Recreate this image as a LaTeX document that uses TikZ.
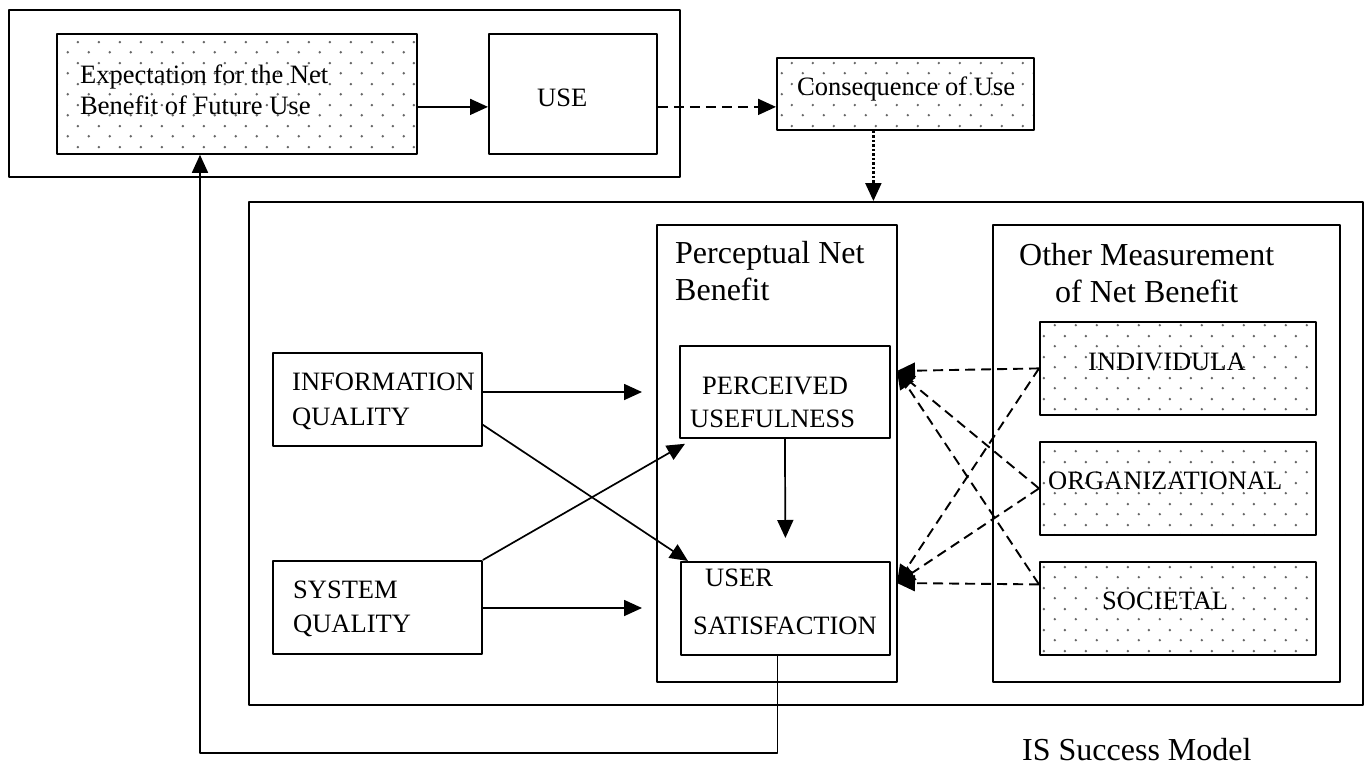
\documentclass[tikz,border=0pt]{standalone}
\usepackage{fontspec}
\setmainfont{Liberation Serif}
\usetikzlibrary{arrows.meta,patterns}
\pgfdeclarepatternformonly{sparsedots}{\pgfqpoint{0pt}{0pt}}{\pgfqpoint{21pt}{21pt}}{\pgfqpoint{21pt}{21pt}}{%
  \pgfpathcircle{\pgfqpoint{5pt}{5pt}}{1.4pt}%
  \pgfpathcircle{\pgfqpoint{15.5pt}{15.5pt}}{1.4pt}%
  \pgfusepath{fill}}
\tikzset{
  frame/.style={draw,line width=1.8pt,inner sep=0pt,anchor=north west},
  dotbox/.style={frame,pattern=sparsedots,pattern color=black!60},
  txt/.style={inner sep=0pt,align=left,anchor=base west,font=\fontsize{26.5}{34}\selectfont},
  head/.style={txt,font=\fontsize{32}{37}\selectfont},
  link/.style={line width=1.7pt,-{Triangle[length=18pt,width=16pt]}},
  dlink/.style={link,line width=1.9pt,dash pattern=on 10pt off 6pt},
  dotlink/.style={link,line width=2.2pt,dash pattern=on 2.5pt off 2pt},
}
\begin{document}
\begin{tikzpicture}[x=1pt,y=-1pt,line join=round]
	\useasboundingbox (0,0) rectangle (1366,771);
	% use and expectation
	\node[frame,minimum width=671pt,minimum height=167pt] (usegrp) at (8,9) {};
	\node[dotbox,minimum width=360pt,minimum height=120pt] (expect) at (56,33) {};
	\node[frame,minimum width=168pt,minimum height=120pt] (use) at (488,33) {};
	\node[dotbox,minimum width=257pt,minimum height=72pt] (conseq) at (776,57) {};
	% net benefit
	\node[frame,minimum width=1114pt,minimum height=503pt] (netgrp) at (248,201) {};
	\node[frame,minimum width=240pt,minimum height=457pt] (percep) at (656,224) {};
	\node[frame,minimum width=347pt,minimum height=457pt] (other) at (992,224) {};
	\node[frame,minimum width=209pt,minimum height=93pt] (info) at (272,352) {};
	\node[frame,minimum width=209pt,minimum height=93pt] (sys) at (272,560) {};
	\node[frame,minimum width=210pt,minimum height=92pt] (useful) at (679,345) {};
	\node[frame,minimum width=209pt,minimum height=93pt] (satis) at (680,561) {};
	\node[dotbox,minimum width=276pt,minimum height=93pt] (indiv) at (1039,321) {};
	\node[dotbox,minimum width=276pt,minimum height=93pt] (organ) at (1039,441) {};
	\node[dotbox,minimum width=276pt,minimum height=93pt] (societ) at (1039,561) {};
	% texts (multi-line ones sit on their last baseline)
	\node[txt,font=\fontsize{26.5}{31}\selectfont] (expecttxt) at (80,114) {Expectation for the Net\\Benefit of Future Use};
	\node[txt] (usetxt) at (537,106) {USE};
	\node[txt] (conseqtxt) at (797,95) {Consequence of Use};
	\node[head] (perceptxt) at (675,300) {Perceptual Net\\Benefit};
	\node[head,align=center] (othertxt) at (1019,302) {Other Measurement\\of Net Benefit};
	\node[txt,font=\fontsize{26.5}{35}\selectfont] (infotxt) at (292,425) {INFORMATION\\QUALITY};
	\node[txt] (systxt) at (293,632) {SYSTEM\\QUALITY};
	\node[txt,font=\fontsize{26.5}{33}\selectfont] (usefultxt) at (690,427) {\hspace*{12pt}PERCEIVED\\USEFULNESS};
	\node[txt,font=\fontsize{26.5}{48}\selectfont] (satistxt) at (693,634) {\hspace*{12pt}USER\\SATISFACTION};
	\node[txt] (indivtxt) at (1088,370) {INDIVIDULA};
	\node[txt] (organtxt) at (1048,489) {ORGANIZATIONAL};
	\node[txt] (societtxt) at (1102,609) {SOCIETAL};
	\node[head] (title) at (1022,760) {IS Success Model};
	% free ends
	\path
	(642,392) coordinate (inU)
	(642,608) coordinate (inS)
	(897,371) coordinate (tipU)
	(897,583) coordinate (tipS)
	(200,753) coordinate (back);
	% connectors
	\draw[link] ([yshift=-13pt]expect.east) -- ([yshift=-13pt]use.west);
	\draw[dlink] ([yshift=-13pt]use.east) -- ([yshift=-13pt]conseq.west);
	\draw[dotlink] ([xshift=-32pt]conseq.south) coordinate (c) -- (c |- netgrp.north);
	\draw[link] (info.east |- inU) -- (inU);
	\draw[link] (sys.east |- inS) -- (inS);
	\draw[link] ([yshift=22pt]info.south east) -- ([xshift=8pt]satis.north west);
	\draw[link] (sys.north east) -- ([shift={(6pt,-5pt)}]useful.south west);
	\draw[link] (useful.south) -- ([yshift=23pt]satis.north);
	\draw[link] ([xshift=-8pt]satis.south) |- (back) -- (back |- expect.south);
	\draw[dlink] (indiv.west) -- (tipU);
	\draw[dlink] (organ.west) -- (tipU);
	\draw[dlink] ([yshift=24pt]societ.west) -- (tipU);
	\draw[dlink] (indiv.west) -- (tipS);
	\draw[dlink] (organ.west) -- (tipS);
	\draw[dlink] ([yshift=24pt]societ.west) -- (tipS);
\end{tikzpicture}
\end{document}
